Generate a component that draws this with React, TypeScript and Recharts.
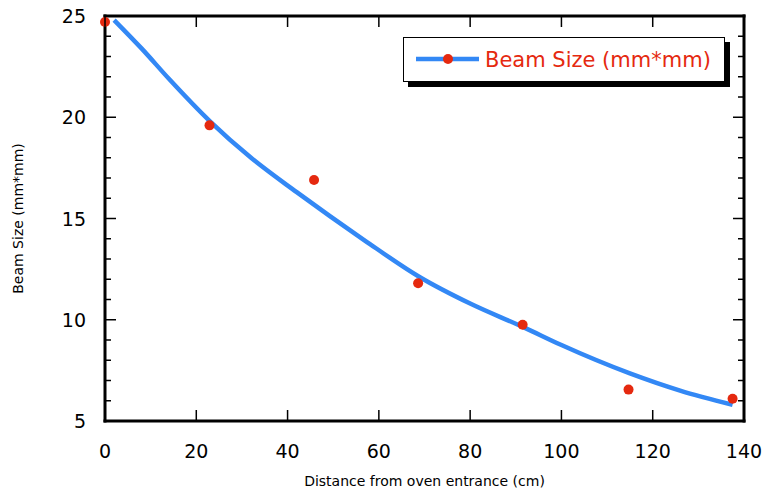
import React from 'react';
import { ComposedChart, Line, Scatter, XAxis, YAxis } from 'recharts';

// measured beam size along the oven
const distance = [0, 22.9, 45.8, 68.6, 91.5, 114.7, 137.5];
const beamSize = [24.7, 19.6, 16.9, 11.8, 9.75, 6.55, 6.1];

// fitted curve
const fitDistance = [2, 8, 14, 23, 32, 42, 57, 69, 80, 92, 100, 115, 126, 137.5];
const fitSize = [24.8, 23.4, 21.9, 19.8, 18.0, 16.3, 13.9, 12.1, 10.8, 9.6, 8.75, 7.35, 6.5, 5.8];

const xTicks = [0, 20, 40, 60, 80, 100, 120, 140];
const yTicks = [5, 6, 7, 8, 9, 10, 11, 12, 13, 14, 15, 16, 17, 18, 19, 20, 21, 22, 23, 24, 25];
const yLabels = [5, 10, 15, 20, 25];

const points = distance.map((x, i) => ({ x, y: beamSize[i] }));
const fit = fitDistance.map((x, i) => ({ x, y: fitSize[i] }));

const BLUE = '#3388f5';
const RED = '#e5290f';
const FONT = '"DejaVu Sans", Verdana, sans-serif';
const MAJOR = 11;
const MINOR = 6;

const BottomTick = (props: any) => {
  const { x, y, payload } = props;
  return (
    <g>
      <line x1={x} y1={y} x2={x} y2={y - MAJOR} stroke="#000" strokeWidth={1.5} />
      <text x={x} y={y + 37} textAnchor="middle" fontSize={19} fontFamily={FONT} fill="#000">
        {payload.value}
      </text>
    </g>
  );
};

const TopTick = (props: any) => {
  const { x, y } = props;
  return <line x1={x} y1={y} x2={x} y2={y + MAJOR} stroke="#000" strokeWidth={1.5} />;
};

const LeftTick = (props: any) => {
  const { x, y, payload } = props;
  const major = yLabels.includes(payload.value);
  return (
    <g>
      <line x1={x} y1={y} x2={x + (major ? MAJOR : MINOR)} y2={y} stroke="#000" strokeWidth={1.5} />
      {major && (
        <text x={x - 19} y={y + 7} textAnchor="end" fontSize={19} fontFamily={FONT} fill="#000">
          {payload.value}
        </text>
      )}
    </g>
  );
};

const RightTick = (props: any) => {
  const { x, y, payload } = props;
  const major = yLabels.includes(payload.value);
  return <line x1={x} y1={y} x2={x - (major ? MAJOR : MINOR)} y2={y} stroke="#000" strokeWidth={1.5} />;
};

const frame = { stroke: '#000', strokeWidth: 3, strokeLinecap: 'square' as const };

export default function App() {
  return (
    <div style={{ position: 'absolute', left: 0, top: 0, width: 769, height: 493, background: '#fff' }}>
      <ComposedChart width={769} height={493} margin={{ top: 15, right: 24, left: 0, bottom: 22 }}>
        <XAxis
          dataKey="x"
          type="number"
          domain={[0, 140]}
          ticks={xTicks}
          interval={0}
          height={50}
          tickSize={0}
          tickMargin={0}
          tickLine={false}
          axisLine={frame}
          tick={<BottomTick />}
          label={{
            value: 'Distance from oven entrance (cm)',
            position: 'insideBottom',
            offset: -15,
            style: { fontSize: 14, fontFamily: FONT, fill: '#000' },
          }}
        />
        <XAxis
          xAxisId="top"
          dataKey="x"
          orientation="top"
          type="number"
          domain={[0, 140]}
          ticks={xTicks}
          interval={0}
          height={1}
          tickSize={0}
          tickMargin={0}
          tickLine={false}
          axisLine={frame}
          tick={<TopTick />}
        />
        <YAxis
          type="number"
          domain={[5, 25]}
          ticks={yTicks}
          interval={0}
          width={105}
          tickSize={0}
          tickMargin={0}
          tickLine={false}
          axisLine={frame}
          tick={<LeftTick />}
          label={{
            value: 'Beam Size  (mm*mm)',
            angle: -90,
            position: 'insideLeft',
            offset: 18,
            style: { fontSize: 14, fontFamily: FONT, fill: '#000', textAnchor: 'middle' },
          }}
        />
        <YAxis
          yAxisId="right"
          orientation="right"
          type="number"
          domain={[5, 25]}
          ticks={yTicks}
          interval={0}
          width={1}
          tickSize={0}
          tickMargin={0}
          tickLine={false}
          axisLine={frame}
          tick={<RightTick />}
        />
        {/* invisible series so the top and right frame axes render */}
        <Line
          xAxisId="top"
          yAxisId="right"
          data={points}
          dataKey="y"
          stroke="none"
          dot={false}
          activeDot={false}
          legendType="none"
          isAnimationActive={false}
        />
        <Line
          data={fit}
          dataKey="y"
          type="monotone"
          stroke={BLUE}
          strokeWidth={4.5}
          dot={false}
          isAnimationActive={false}
        />
        <Scatter
          data={points}
          dataKey="y"
          fill={RED}
          shape={(p: any) => <circle cx={p.cx} cy={p.cy} r={5} fill={RED} />}
          isAnimationActive={false}
        />
      </ComposedChart>
      <div
        style={{
          position: 'absolute',
          left: 403,
          top: 37,
          width: 322,
          height: 45,
          boxSizing: 'border-box',
          border: '1.5px solid #000',
          boxShadow: '5px 5px 0 #000',
          background: '#fff',
        }}
      >
        <svg width={320} height={42} style={{ position: 'absolute', left: 0, top: 0 }}>
          <line x1={12} y1={21} x2={75} y2={21} stroke={BLUE} strokeWidth={4.5} />
          <circle cx={44} cy={21} r={5} fill={RED} />
          <text x={81} y={29} fontSize={21} fontFamily={FONT} fill={RED}>
            Beam Size (mm*mm)
          </text>
        </svg>
      </div>
    </div>
  );
}
